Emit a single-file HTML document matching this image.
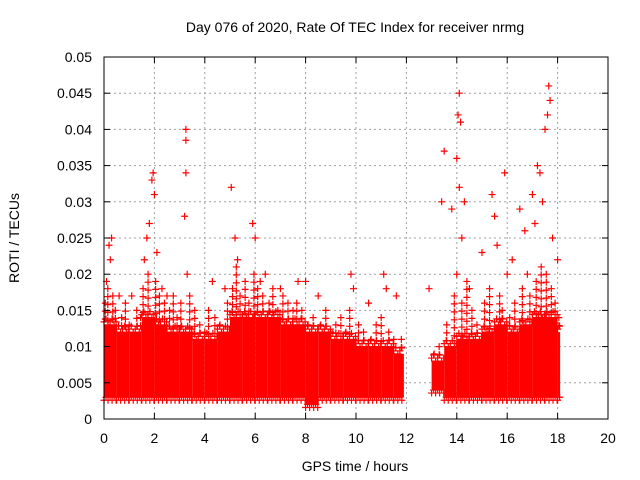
<!DOCTYPE html>
<html><head><meta charset="utf-8"><style>
body{margin:0;background:#fff;}
svg{display:block;font-family:"Liberation Sans",sans-serif;}
</style></head><body>
<svg id="chart" width="640" height="480" xmlns="http://www.w3.org/2000/svg">
<rect width="640" height="480" fill="#fff"/>
<text x="355" y="32" font-size="14" text-anchor="middle">Day 076 of 2020, Rate Of TEC Index for receiver nrmg</text>
<g id="grid"></g>
<g id="band"></g>
<g id="marks"></g>
<rect x="104" y="57" width="504" height="362" fill="none" stroke="#000" stroke-width="1"/>
<g id="ticks"></g>
<text x="355" y="471" font-size="14" text-anchor="middle">GPS time / hours</text>
<text transform="translate(19,238) rotate(-90)" font-size="14" text-anchor="middle">ROTI / TECUs</text>
</svg>
<script>
const xTicks=[0,2,4,6,8,10,12,14,16,18,20];
const yTicks=[0,0.005,0.01,0.015,0.02,0.025,0.03,0.035,0.04,0.045,0.05];
const yTickLabels=["0","0.005","0.01","0.015","0.02","0.025","0.03","0.035","0.04","0.045","0.05"];
const binStart=[0,0.5,1,1.5,2,2.5,3,3.5,4,4.5,5,5.5,6,6.5,7,7.5,8,8.5,9,9.5,10,10.5,11,11.5,13,13.5,14,14.5,15,15.5,16,16.5,17,17.5,18];
const binEnd=[0.5,1,1.5,2,2.5,3,3.5,4,4.5,5,5.5,6,6.5,7,7.5,8,8.5,9,9.5,10,10.5,11,11.5,11.9,13.5,14,14.5,15,15.5,16,16.5,17,17.5,18,18.1];
const binLow=[0.003,0.003,0.003,0.003,0.003,0.003,0.003,0.003,0.003,0.003,0.003,0.003,0.003,0.003,0.003,0.003,0.002,0.003,0.003,0.003,0.003,0.003,0.003,0.003,0.004,0.003,0.003,0.003,0.003,0.003,0.003,0.003,0.003,0.003,0.003];
const binHigh=[0.013,0.012,0.012,0.014,0.013,0.012,0.012,0.011,0.011,0.012,0.014,0.014,0.014,0.014,0.013,0.013,0.012,0.012,0.011,0.011,0.010,0.010,0.010,0.009,0.008,0.010,0.011,0.011,0.012,0.013,0.012,0.013,0.014,0.014,0.012];
const spikeX=[0.1,0.2,0.3,0.25,0.6,1.1,1.6,1.7,1.8,1.9,1.95,2.0,2.1,2.3,3.25,3.25,3.25,3.2,3.3,4.3,5.05,5.2,5.3,5.9,6.0,6.4,7.0,7.7,8.0,8.5,9.8,9.9,11.1,11.2,11.6,12.9,13.5,13.4,13.8,14.0,14.05,14.1,14.15,14.1,14.3,14.2,14.0,15.0,15.4,15.5,15.6,15.9,16.2,16.5,16.7,17.0,17.1,17.2,17.3,17.4,17.5,17.6,17.65,17.7,17.8,18.0,14.5,16.0,16.8,6.2,2.5,4.8,10.5];
const spikeY=[0.019,0.024,0.025,0.022,0.017,0.017,0.022,0.025,0.027,0.033,0.034,0.031,0.023,0.018,0.040,0.0385,0.034,0.028,0.020,0.019,0.032,0.025,0.022,0.027,0.025,0.020,0.018,0.019,0.019,0.017,0.020,0.018,0.020,0.018,0.017,0.018,0.037,0.030,0.029,0.036,0.042,0.045,0.041,0.032,0.030,0.025,0.020,0.023,0.031,0.028,0.024,0.034,0.022,0.029,0.026,0.031,0.027,0.035,0.034,0.030,0.040,0.042,0.046,0.044,0.025,0.022,0.018,0.020,0.020,0.019,0.017,0.018,0.016];
const fringeX=[0.05,0.15,0.35,0.45,0.7,0.85,1.0,1.3,1.45,1.55,1.75,2.05,2.2,2.4,2.6,2.75,2.9,3.05,3.4,3.6,3.8,4.0,4.15,4.4,4.6,4.9,5.1,5.25,5.4,5.6,5.75,5.95,6.1,6.3,6.55,6.7,6.9,7.1,7.3,7.5,7.65,7.85,8.1,8.3,8.6,8.8,9.0,9.2,9.4,9.6,9.75,10.1,10.3,10.6,10.8,11.0,11.3,11.5,11.8,13.1,13.3,13.6,13.9,14.2,14.4,14.6,14.8,15.1,15.3,15.7,15.8,16.1,16.3,16.6,16.9,17.15,17.35,17.55,17.75,17.9,18.05];
const fringeY=[0.016,0.018,0.017,0.015,0.014,0.016,0.013,0.015,0.014,0.018,0.020,0.019,0.017,0.016,0.015,0.017,0.014,0.016,0.017,0.015,0.013,0.012,0.015,0.014,0.013,0.016,0.018,0.021,0.017,0.019,0.016,0.020,0.018,0.017,0.016,0.018,0.015,0.017,0.016,0.015,0.016,0.015,0.013,0.014,0.013,0.015,0.012,0.013,0.014,0.012,0.015,0.013,0.012,0.011,0.013,0.014,0.012,0.011,0.011,0.009,0.010,0.013,0.017,0.016,0.019,0.015,0.013,0.016,0.018,0.017,0.015,0.014,0.016,0.018,0.017,0.019,0.021,0.020,0.018,0.016,0.014];
const X=h=>104+h*25.2, Y=v=>419-v*7240;
const NS="http://www.w3.org/2000/svg";
function mk(tag,attrs,parent){const e=document.createElementNS(NS,tag);for(const k in attrs)e.setAttribute(k,attrs[k]);document.getElementById(parent).appendChild(e);return e;}
xTicks.forEach((t,i)=>{
  if(i>0&&i<xTicks.length-1){const g=mk('line',{x1:X(t),x2:X(t),y1:57,y2:419,stroke:'#a0a0a0','stroke-dasharray':'2,3'},'grid');
  
  }
  const l=mk('text',{x:X(t),y:443,'font-size':14,'text-anchor':'middle'},'ticks');l.textContent=t;
  
  
  mk('line',{x1:X(t),x2:X(t),y1:419,y2:413,stroke:'#000'},'ticks');
  mk('line',{x1:X(t),x2:X(t),y1:57,y2:63,stroke:'#000'},'ticks');
});
yTicks.forEach((t,i)=>{
  if(i>0&&i<yTicks.length-1){const g=mk('line',{x1:104,x2:608,y1:Y(t),y2:Y(t),stroke:'#a0a0a0','stroke-dasharray':'2,3'},'grid');
  
  }
  const l=mk('text',{x:92,y:Y(t)+5,'font-size':14,'text-anchor':'end'},'ticks');l.textContent=yTickLabels[i];
  
  
  mk('line',{x1:104,x2:110,y1:Y(t),y2:Y(t),stroke:'#000'},'ticks');
  mk('line',{x1:608,x2:602,y1:Y(t),y2:Y(t),stroke:'#000'},'ticks');
});
let d='';
const cross=(x,y)=>{d+=`M${x-3.5},${y}h7M${x},${y-3.5}v7`;};
binStart.forEach((s,i)=>{
  const r=mk('rect',{x:X(s),y:Y(binHigh[i]),width:X(binEnd[i])-X(s),height:Y(binLow[i])-Y(binHigh[i]),fill:'#f00'},'band');
  
  
  let k=0;
  for(let h=s;h<binEnd[i];h+=0.08){k++;cross(X(h),Y(binHigh[i])-(k%3)*3);cross(X(h),Y(binLow[i])+(k%2)*3);}
});
spikeX.forEach((h,i)=>cross(X(h),Y(spikeY[i])));
fringeX.forEach((h,i)=>{const j=binStart.findIndex((s,k)=>h>=s&&h<binEnd[k]);const top=j>=0?binHigh[j]:fringeY[i];for(let v=fringeY[i];v>top;v-=0.0011){cross(X(h),Y(v));}});
const p=mk('path',{d:d,stroke:'#f00','stroke-width':1.2,fill:'none'},'marks');


</script>
</body></html>
